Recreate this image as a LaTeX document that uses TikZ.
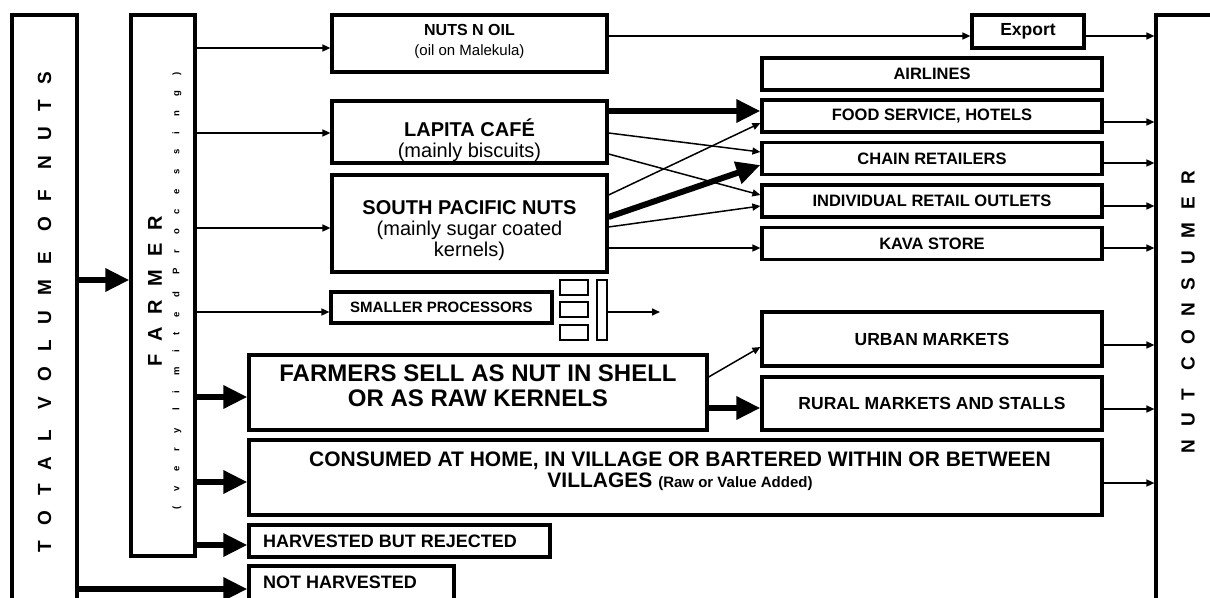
\documentclass[tikz,border=0pt]{standalone}
\usepackage{fontspec}
\setmainfont{Liberation Sans}
\usetikzlibrary{arrows.meta,calc}

\tikzset{
	box/.style={draw, line width=3.2pt, inner sep=0pt, align=center},
	boxtext/.style={inner sep=0pt, align=center, font=\bfseries},
	outlet/.style={box, minimum width=340pt, minimum height=32pt, font=\bfseries\fontsize{16.5}{18}\selectfont},
	spaced/.style n args={2}{rotate=90, inner sep=0pt, font=\bfseries\fontsize{#1}{#1}\selectfont\addfontfeature{LetterSpace=#2}},
	flow/.style={line width=1.5pt, -{Triangle[length=8pt,width=7pt]}},
	bigflow/.style={line width=6pt, -{Triangle[length=24pt,width=22pt]}},
}

\begin{document}
\begin{tikzpicture}[x=1pt, y=-1pt]
		%%%%% START %%%%%
		\useasboundingbox (0,0) rectangle (1210,597);
		\clip (0,0) rectangle (1210,597);
		
		% the two outer columns and the farmer
		\node[box, minimum width=65pt, minimum height=605pt] (total) at (44.5,317.5) {};
		\node[spaced={19}{80}] (totaltxt) at (44.5,312) {TOTAL VOLUME OF NUTS};
		\node[box, minimum width=64pt, minimum height=541pt] (farmer) at (163,285.5) {};
		\node[spaced={20}{66}] (farmertxt) at (155,291) {FARMER};
		\node[spaced={9.5}{155}] (farmersub) at (177,291) {(very limited Processing)};
		\node[box, minimum width=104pt, minimum height=605pt] (consumer) at (1208,317.5) {};
		\node[spaced={19}{67}] (consumertxt) at (1188,312) {NUT CONSUMER};
		
		% processors
		\node[box, minimum width=275pt, minimum height=57pt] (nuts) at (469.5,43.5) {};
		\node[boxtext, font=\bfseries\fontsize{16}{20}\selectfont] (nutstxt) at (469.5,41) {NUTS N OIL\\{\mdseries\fontsize{15}{20}\selectfont (oil on Malekula)}};
		\node[box, minimum width=275pt, minimum height=62pt] (lapita) at (469.5,132) {};
		\node[boxtext, font=\bfseries\fontsize{20}{21}\selectfont] (lapitatxt) at (469.5,140) {LAPITA CAFÉ\\{\mdseries (mainly biscuits)}};
		\node[box, minimum width=275pt, minimum height=97pt] (spn) at (469.5,223.5) {};
		\node[boxtext, font=\bfseries\fontsize{20}{21}\selectfont] (spntxt) at (469.5,231) {SOUTH PACIFIC NUTS\\{\mdseries (mainly sugar coated}\\{\mdseries kernels)}};
		\node[box, minimum width=221pt, minimum height=31pt, font=\bfseries\fontsize{15}{17}\selectfont] (small) at (441.5,307.5) {SMALLER PROCESSORS};
		\node[box, line width=2.6pt, minimum width=28pt, minimum height=15pt] (tray1) at (574,287.5) {};
		\node[box, line width=2.6pt, minimum width=28pt, minimum height=15pt] (tray2) at (574,309.5) {};
		\node[box, line width=2.6pt, minimum width=28pt, minimum height=15pt] (tray3) at (574,332.5) {};
		\node[box, line width=2.6pt, minimum width=10pt, minimum height=60pt] (press) at (602,310) {};
		\coordinate (procout) at (660,312);
		
		% farmers own channels
		\node[box, minimum width=458pt, minimum height=75pt] (sell) at (478,392.5) {};
		\node[boxtext, font=\bfseries\fontsize{24}{25}\selectfont] (selltxt) at (478,386) {FARMERS SELL AS NUT IN SHELL\\OR AS RAW KERNELS};
		\node[box, minimum width=853pt, minimum height=75pt] (consumed) at (675.5,477.5) {};
		\node[boxtext, font=\bfseries\fontsize{21}{21}\selectfont] (consumedtxt) at (680,471.5) {CONSUMED AT HOME, IN VILLAGE OR BARTERED WITHIN OR BETWEEN\\VILLAGES {\fontsize{15}{21}\selectfont (Raw or Value Added)}};
		\node[box, minimum width=301pt, minimum height=32pt] (rejected) at (399.5,541) {};
		\node[anchor=base west, inner sep=0pt, font=\bfseries\fontsize{18}{20}\selectfont] (rejectedtxt) at (263,547) {HARVESTED BUT REJECTED};
		\node[box, minimum width=205pt, minimum height=54pt] (notharv) at (351.5,593) {};
		\node[anchor=base west, inner sep=0pt, font=\bfseries\fontsize{18}{20}\selectfont] (notharvtxt) at (263,588) {NOT HARVESTED};
		
		% outlets
		\node[box, minimum width=112pt, minimum height=33pt, font=\bfseries\fontsize{17.5}{19}\selectfont] (export) at (1028,31.5) {Export};
		\node[outlet] (airlines) at (932,74) {AIRLINES};
		\node[outlet] (food) at (932,116) {FOOD SERVICE, HOTELS};
		\node[outlet] (chain) at (932,158.5) {CHAIN RETAILERS};
		\node[outlet] (indiv) at (932,201) {INDIVIDUAL RETAIL OUTLETS};
		\node[outlet] (kava) at (932,243.5) {KAVA STORE};
		\node[outlet, minimum height=54pt, font=\bfseries\fontsize{17.5}{19}\selectfont] (urban) at (932,339) {URBAN MARKETS};
		\node[outlet, minimum height=53pt, font=\bfseries\fontsize{17.5}{19}\selectfont] (rural) at (932,403.5) {RURAL MARKETS AND STALLS};
		
		% total and farmer flows
		\draw[bigflow] ($(total.east |- farmer.west)+(0,-5.5)$) -- ($(farmer.west)+(0,-5.5)$);
		\draw[bigflow] ($(total.east |- notharv.west)+(0,-4)$) -- ($(notharv.west)+(0,-4)$);
		\draw[flow] ($(farmer.east |- nuts.west)+(0,4.5)$) -- ($(nuts.west)+(0,4.5)$);
		\draw[flow] ($(farmer.east |- lapita.west)+(0,1)$) -- ($(lapita.west)+(0,1)$);
		\draw[flow] ($(farmer.east |- spn.west)+(0,4.5)$) -- ($(spn.west)+(0,4.5)$);
		\draw[flow] ($(farmer.east |- small.west)+(0,4.5)$) -- ($(small.west)+(0,4.5)$);
		\draw[bigflow] ($(farmer.east |- sell.west)+(0,4.5)$) -- ($(sell.west)+(0,4.5)$);
		\draw[bigflow] ($(farmer.east |- consumed.west)+(0,4.5)$) -- ($(consumed.west)+(0,4.5)$);
		\draw[bigflow] ($(farmer.east |- rejected.west)+(0,4)$) -- ($(rejected.west)+(0,4)$);
		
		% processors to outlets
		\draw[flow] ($(nuts.east)+(0,-7.5)$) -- ($(export.west)+(0,4.5)$);
		\draw[bigflow] ($(lapita.east)+(0,-21)$) -- ($(food.west)+(0,-5)$);
		\draw[flow] ($(lapita.east)+(0,1)$) -- ($(chain.west)+(0,-6.5)$);
		\draw[flow] ($(lapita.east)+(0,22)$) -- ($(indiv.west)+(0,-6)$);
		\draw[flow] ($(spn.east)+(0,-28.5)$) -- ($(food.west)+(0,7)$);
		\draw[bigflow] ($(spn.east)+(0,-6.5)$) -- ($(chain.west)+(0,6.5)$);
		\draw[flow] ($(spn.east)+(0,3.5)$) -- ($(indiv.west)+(0,5)$);
		\draw[flow] ($(spn.east)+(0,24.5)$) -- ($(kava.west)+(0,4.5)$);
		\draw[flow] (press.east |- procout) -- (procout);
		\draw[flow] ($(sell.east)+(0,-15.5)$) -- ($(urban.west)+(0,8)$);
		\draw[bigflow] ($(sell.east)+(0,15.5)$) -- ($(rural.west)+(0,4.5)$);
		
		% outlets to the consumer
		\draw[flow] ($(export.east)+(0,4.5)$) -- ($(export.east -| consumer.west)+(0,4.5)$);
		\draw[flow] ($(food.east)+(0,6)$) -- ($(food.east -| consumer.west)+(0,6)$);
		\draw[flow] ($(chain.east)+(0,4.5)$) -- ($(chain.east -| consumer.west)+(0,4.5)$);
		\draw[flow] ($(indiv.east)+(0,5)$) -- ($(indiv.east -| consumer.west)+(0,5)$);
		\draw[flow] ($(kava.east)+(0,4.5)$) -- ($(kava.east -| consumer.west)+(0,4.5)$);
		\draw[flow] ($(urban.east)+(0,6)$) -- ($(urban.east -| consumer.west)+(0,6)$);
		\draw[flow] ($(rural.east)+(0,5.5)$) -- ($(rural.east -| consumer.west)+(0,5.5)$);
		\draw[flow] ($(consumed.east)+(0,5.5)$) -- ($(consumed.east -| consumer.west)+(0,5.5)$);
		
		%%%%% END %%%%%
\end{tikzpicture}
\end{document}
